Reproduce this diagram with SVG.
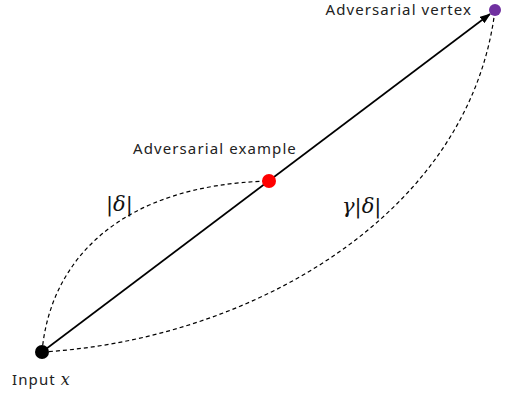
<svg xmlns="http://www.w3.org/2000/svg" width="510" height="394" viewBox="0 0 510 394">
<style>
.lbl{font-family:"Noto Sans","Open Sans",sans-serif;font-size:15px;letter-spacing:1.1px;fill:#222}
.math{font-family:"DejaVu Serif","Liberation Serif",serif;font-size:21px;fill:#111}
.it{font-style:italic}
.dash{fill:none;stroke:#000;stroke-width:1.2;stroke-dasharray:4 3}
</style>
<defs>
<marker id="ah" markerWidth="11" markerHeight="8" refX="10" refY="4" orient="auto" markerUnits="userSpaceOnUse">
<path d="M0,0 L11,4 L0,8 Z" fill="#000"/>
</marker>
</defs>
<rect width="510" height="394" fill="#fff"/>
<g id="connectors">
<path class="dash" d="M42,352 C50,260 120,185 269,181"/>
<path class="dash" d="M42,352 C250,340 470,215 495,10"/>
<line x1="42" y1="352" x2="490" y2="14" stroke="#000" stroke-width="1.6" marker-end="url(#ah)"/>
</g>
<g id="input">
<circle cx="42" cy="352" r="7" fill="#000"/>
<text class="lbl" x="12" y="385">Input <tspan class="it" font-family="DejaVu Serif, serif" font-size="16" letter-spacing="0">x</tspan></text>
</g>
<g id="example">
<circle cx="269" cy="181" r="7" fill="#ff0000"/>
<text class="lbl" x="133" y="154">Adversarial example</text>
</g>
<g id="vertex">
<circle cx="495" cy="10" r="6" fill="#7030a0"/>
<text class="lbl" x="472" y="15" text-anchor="end">Adversarial vertex</text>
</g>
<text class="math" x="106" y="211">|<tspan class="it">δ</tspan>|</text>
<text class="math" x="342" y="213"><tspan class="it">γ</tspan>|<tspan class="it">δ</tspan>|</text>
</svg>
